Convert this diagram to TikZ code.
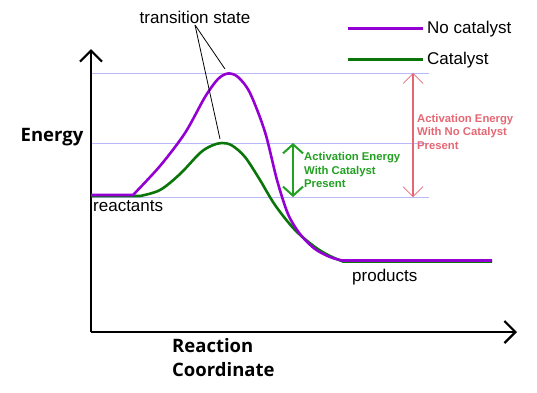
\documentclass[tikz,border=0pt]{standalone}
\usepackage{fontspec}
\setmainfont{Liberation Sans}
\newfontfamily\titlefont{Open Sans}
\usetikzlibrary{arrows.meta}
\definecolor{nocat}{RGB}{148,0,211}
\definecolor{cat}{RGB}{10,118,10}
\definecolor{catlbl}{RGB}{34,160,34}
\definecolor{nocatlbl}{RGB}{228,104,116}
\definecolor{guide}{RGB}{185,185,250}
\tikzset{
  axis/.style={line width=2.2pt, -{Straight Barb[length=11pt,width=22pt]}},
  guideline/.style={guide, line width=1pt},
  curve/.style={line width=2.6pt, line join=round},
  lbl/.style={font=\fontsize{17}{19}\selectfont, inner sep=0pt, anchor=base west},
  bigl/.style={font=\titlefont\bfseries\fontsize{18.5}{22}\selectfont, inner sep=0pt, anchor=base west},
  eal/.style={font=\bfseries\fontsize{11.3}{13.5}\selectfont, inner sep=0pt, anchor=base west},
  tsline/.style={black, line width=0.8pt},
}
\begin{document}
\begin{tikzpicture}[x=1pt,y=-1pt]
\useasboundingbox (0,0) rectangle (537,392);
% guide lines
\coordinate (g1a) at (91,73);  \coordinate (g1b) at (429,73);
\coordinate (g2a) at (91,143); \coordinate (g2b) at (429,143);
\coordinate (g3a) at (91,197); \coordinate (g3b) at (429,197);
\draw[guideline] (g1a) -- (g1b);
\draw[guideline] (g2a) -- (g2b);
\draw[guideline] (g3a) -- (g3b);
% axes
\coordinate (origin) at (91,332);
\coordinate (ytip) at (91,49);
\coordinate (xtip) at (517,332);
\draw[axis] (origin) -- (ytip);
\draw[axis] (origin) -- (xtip);
% curves
\draw[curve, cat] (91,196) -- (140,196) plot[smooth, tension=0.55] coordinates {(140,196) (160,190) (180,174) (200,153) (212,145.5) (222,143) (232,145.5) (245,157) (260,180) (275,205) (295,230) (315,247) (330,256) (343,261.5)} -- (492,261.5);
\draw[curve, nocat] (91,195) -- (133,195) plot[smooth, tension=0.5] coordinates {(133,195) (160,166) (185,133) (205,97) (218,79) (228,73.5) (238,77) (250,93) (265,132) (277,180) (288,214) (300,234) (315,249) (330,257) (342,260.5)} -- (492,260.5);
% legend
\coordinate (l1a) at (348,28); \coordinate (l1b) at (423,28);
\coordinate (l2a) at (348,59); \coordinate (l2b) at (423,59);
\draw[nocat, line width=3pt] (l1a) -- (l1b);
\draw[cat, line width=3pt] (l2a) -- (l2b);
\node[lbl] (lnc) at (427,33.5) {No catalyst};
\node[lbl] (lc) at (427,64) {Catalyst};
% transition state
\node[lbl, anchor=base] (ts) at (195,23) {transition state};
\coordinate (tsfrom) at (195,25);
\coordinate (pk1) at (225,69);
\coordinate (pk2) at (220,139);
\draw[tsline] (tsfrom) -- (pk1);
\draw[tsline] (tsfrom) -- (pk2);
% activation energy arrows
\coordinate (ca) at (293,143); \coordinate (cb) at (293,197);
\draw[catlbl, line width=2pt, {Straight Barb[length=9pt,width=20pt]}-{Straight Barb[length=9pt,width=20pt]}] (ca) -- (cb);
\coordinate (na) at (413,73); \coordinate (nb) at (413,197);
\draw[nocatlbl, line width=1.8pt, {Straight Barb[length=10pt,width=20pt,line width=0.7pt]}-{Straight Barb[length=10pt,width=20pt,line width=0.7pt]}] (na) -- (nb);
\node[eal, catlbl] (ea1) at (304,160.5) {Activation Energy};
\node[eal, catlbl] (ea2) at (304,174) {With Catalyst};
\node[eal, catlbl] (ea3) at (304,187.5) {Present};
\node[eal, nocatlbl] (eb1) at (417,122) {Activation Energy};
\node[eal, nocatlbl] (eb2) at (417,135.5) {With No Catalyst};
\node[eal, nocatlbl] (eb3) at (417,149) {Present};
% labels
\node[lbl] (react) at (93,211.5) {reactants};
\node[lbl] (prod) at (352,281.5) {products};
\node[bigl] (energy) at (20.5,141.5) {Energy};
\node[bigl] (rc1) at (172,352) {Reaction};
\node[bigl] (rc2) at (172,376) {Coordinate};
\end{tikzpicture}
\end{document}
